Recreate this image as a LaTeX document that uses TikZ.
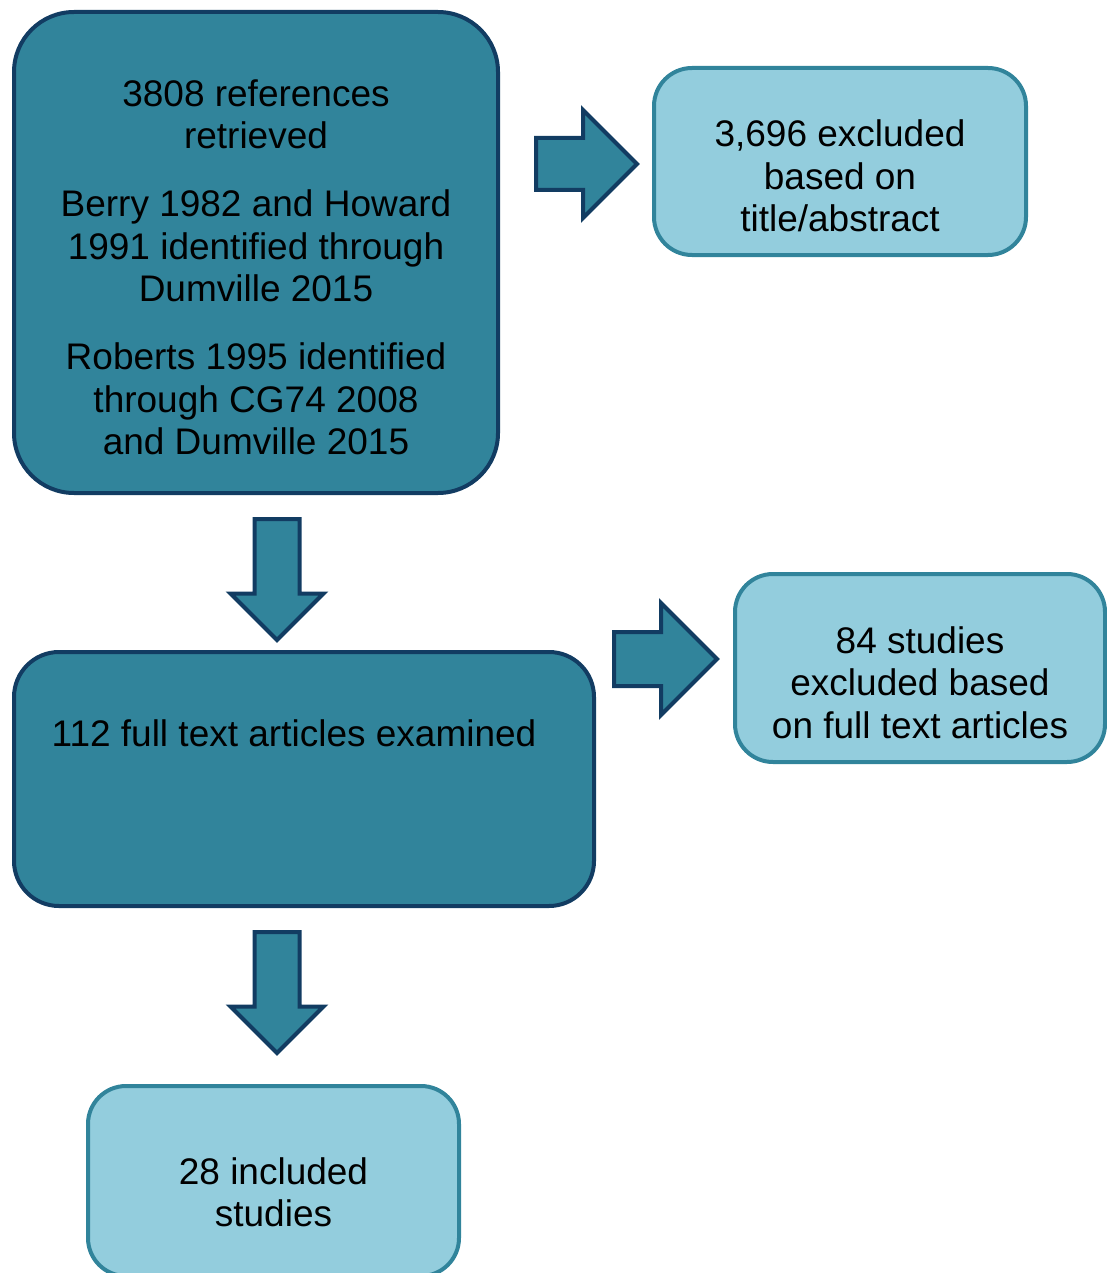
\documentclass[tikz,border=0pt]{standalone}
\usepackage{fontspec}
\setmainfont{Liberation Sans}
\usetikzlibrary{shapes.arrows}

\definecolor{boxteal}{HTML}{31849B}
\definecolor{boxnavy}{HTML}{123C62}
\definecolor{boxlight}{HTML}{93CDDD}

\begin{document}
\begin{tikzpicture}[
    x=1pt, y=-1pt,
    font=\fontsize{37}{42.5}\selectfont,
    darkbox/.style={
        draw=boxnavy, line width=4pt,
        fill=boxteal,
        inner sep=0pt,
        align=center
    },
    lightbox/.style={
        draw=boxteal, line width=4pt,
        fill=boxlight,
        rounded corners=38pt,
        inner sep=0pt,
        align=center
    },
    blockarrow/.style={
        single arrow, draw=boxnavy, line width=4pt,
        fill=boxteal,
        single arrow tip angle=90,
        inner xsep=0pt,
        anchor=tail
    }
]
\useasboundingbox (0,0) rectangle (1107,1273);

% Main boxes
\node[darkbox, rounded corners=60pt, minimum width=484pt, minimum height=481pt] (ref) at (256,252.5) {%
\rule{0pt}{56pt}3808 references\\retrieved\\[25.5pt]
Berry 1982 and Howard\\1991 identified through\\Dumville 2015\\[25.5pt]
Roberts 1995 identified\\through CG74 2008\\and Dumville 2015};
\node[darkbox, rounded corners=45pt, minimum width=580pt, minimum height=254pt] (ft) at (304,779) {%
112 full text articles examined\kern20pt\rule[-92.5pt]{0pt}{92.5pt}};
\node[lightbox, minimum width=371pt, minimum height=190pt] (inc) at (273.5,1181) {%
\rule{0pt}{49pt}28 included\\studies};

% Exclusion boxes
\node[lightbox, minimum width=372pt, minimum height=187pt] (ex1) at (840,161.5) {%
\rule{0pt}{56pt}3,696 excluded\\based on\\title/abstract};
\node[lightbox, minimum width=370pt, minimum height=188pt] (ex2) at (920,668) {%
\rule{0pt}{56pt}84 studies\\excluded based\\on full text articles};

% Block arrows
\node[blockarrow, inner ysep=24pt, single arrow head extend=28pt, minimum height=101pt] (a1) at (534,164) {};
\node[blockarrow, inner ysep=25pt, single arrow head extend=29pt, minimum height=103pt] (a2) at (612,659) {};
\node[blockarrow, rotate=-90, inner ysep=20.5pt, single arrow head extend=24pt, minimum height=121pt] (d1) at (277,517) {};
\node[blockarrow, rotate=-90, inner ysep=20.5pt, single arrow head extend=24pt, minimum height=121pt] (d2) at (277,930) {};

\end{tikzpicture}
\end{document}
